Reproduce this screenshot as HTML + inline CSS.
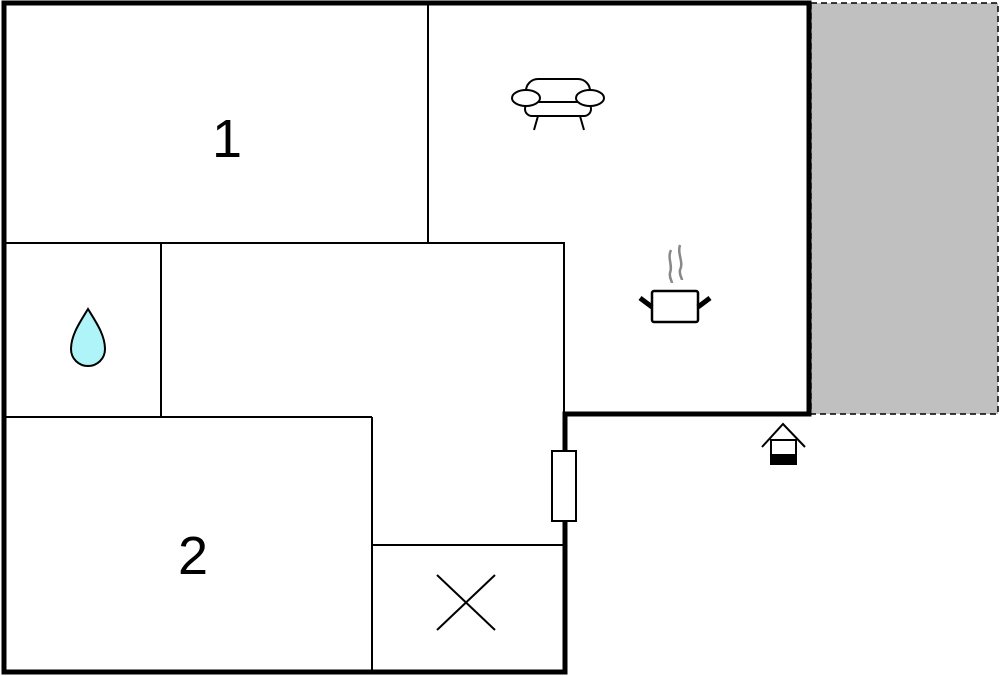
<!DOCTYPE html>
<html><head><style>body{margin:0;background:#fff}svg{display:block}</style></head><body>
<svg width="1000" height="676" viewBox="0 0 1000 676" xmlns="http://www.w3.org/2000/svg">
<rect x="811" y="3" width="187" height="411" fill="#c0c0c0" stroke="#000" stroke-width="1.5" stroke-dasharray="6,4"/>
<g stroke="#000" stroke-width="2" fill="none">
<line x1="428" y1="3" x2="428" y2="243"/>
<line x1="4" y1="243" x2="565" y2="243"/>
<line x1="564" y1="243" x2="564" y2="414"/>
<line x1="161" y1="243" x2="161" y2="417"/>
<line x1="4" y1="417" x2="372" y2="417"/>
<line x1="372" y1="417" x2="372" y2="672"/>
<line x1="372" y1="545" x2="565" y2="545"/>
<line x1="437" y1="575" x2="495" y2="630"/>
<line x1="495" y1="575" x2="437" y2="630"/>
</g>
<path d="M4 3 H809 V414 H565 V672 H4 Z" fill="none" stroke="#000" stroke-width="5" stroke-linejoin="miter"/>
<rect x="552" y="451" width="24" height="70" fill="#fff" stroke="#000" stroke-width="2"/>
<text x="227" y="157" font-family="Liberation Sans, sans-serif" font-size="54" text-anchor="middle">1</text>
<text x="193" y="574" font-family="Liberation Sans, sans-serif" font-size="54" text-anchor="middle">2</text>
<path d="M88 309 C80 322 71 335 71 349 C71 359 79 366 88 366 C97 366 105 359 105 349 C105 335 96 322 88 309 Z" fill="#aef4f8" stroke="#000" stroke-width="2"/>
<g stroke="#000" stroke-width="2" fill="#fff">
<rect x="526" y="79" width="64" height="30" rx="12"/>
<rect x="525" y="102" width="66" height="14" rx="7"/>
<ellipse cx="526" cy="98" rx="14" ry="8"/>
<ellipse cx="590" cy="98" rx="14" ry="8"/>
<line x1="538" y1="116" x2="534" y2="130"/>
<line x1="580" y1="116" x2="584" y2="130"/>
</g>
<g stroke="#888" stroke-width="2.5" fill="none">
<path d="M671 250 C667 258 673 265 670 273 C669 278 672 281 672 283"/>
<path d="M680 245 C677 254 684 262 680 270 C679 275 682 278 682 280"/>
</g>
<rect x="652" y="291" width="46" height="31" rx="2" fill="#fff" stroke="#000" stroke-width="2.5"/>
<line x1="640" y1="298" x2="652" y2="307" stroke="#000" stroke-width="5"/>
<line x1="710" y1="298" x2="698" y2="307" stroke="#000" stroke-width="5"/>
<path d="M762 447 L783 424 L805 447" fill="none" stroke="#000" stroke-width="2"/>
<rect x="771" y="440" width="25" height="24" fill="#fff" stroke="#000" stroke-width="2"/>
<rect x="771" y="454" width="25" height="10" fill="#000"/>
</svg>
</body></html>
